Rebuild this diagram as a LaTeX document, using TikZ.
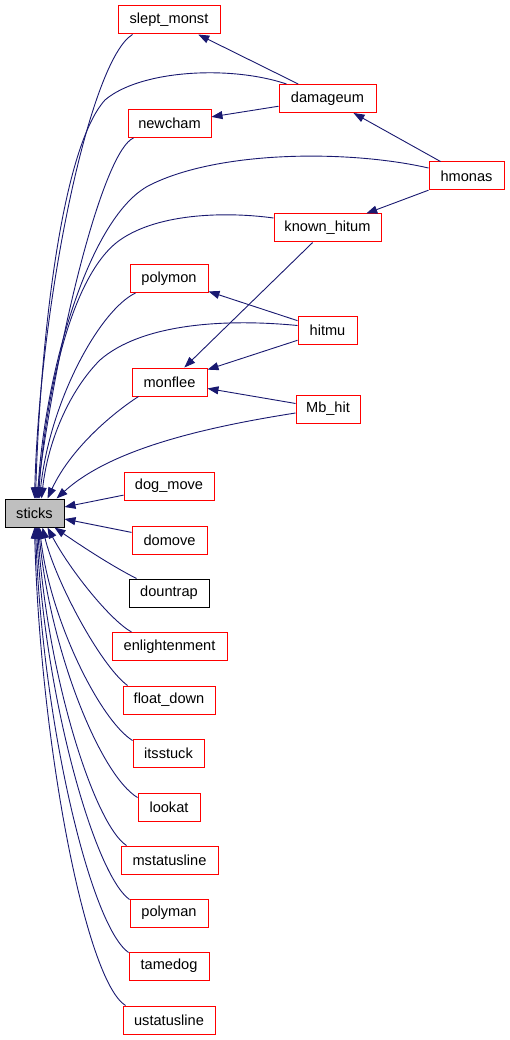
\documentclass[tikz,border=0pt]{standalone}
\usepackage{fontspec}
\setmainfont{Liberation Sans}
\usetikzlibrary{arrows.meta,calc}
\definecolor{edgec}{HTML}{191970}
\definecolor{boxred}{HTML}{FF0000}
\definecolor{boxgray}{HTML}{BFBFBF}
\begin{document}
\begin{tikzpicture}[x=1pt,y=-1pt,
  fn/.style={draw=boxred, fill=white, line width=1pt, minimum height=28pt, inner sep=0pt,
    font=\fontsize{14.6}{17}\selectfont},
  root/.style={fn, draw=black, fill=boxgray},
  plain/.style={fn, draw=black},
  edge/.style={draw=edgec, line width=0.9pt, -{Triangle[length=11pt,width=8pt]}}]
\useasboundingbox (0,0) rectangle (509,1040);
% nodes
\node[fn, minimum width=102pt] (slept_monst) at (169,20) {slept\_monst};
\node[fn, minimum width=97pt] (damageum) at (327.5,98.5) {damageum};
\node[fn, minimum width=83pt] (newcham) at (169.5,123.5) {newcham};
\node[fn, minimum width=75pt] (hmonas) at (466.5,176) {hmonas};
\node[fn, minimum width=107pt] (known_hitum) at (327.5,228) {known\_hitum};
\node[fn, minimum width=78pt] (polymon) at (169,278.5) {polymon};
\node[fn, minimum width=59pt] (hitmu) at (327.5,330.5) {hitmu};
\node[fn, minimum width=75pt] (monflee) at (169.5,382) {monflee};
\node[fn, minimum width=64pt] (Mb_hit) at (328,409) {Mb\_hit};
\node[fn, minimum width=90pt] (dog_move) at (169,486) {dog\_move};
\node[root, minimum width=59pt] (sticks) at (34.5,513) {sticks};
\node[fn, minimum width=75pt] (domove) at (169.5,540) {domove};
\node[plain, minimum width=80pt] (dountrap) at (169,593) {dountrap};
\node[fn, minimum width=115pt] (enlightenment) at (169.5,646.5) {enlightenment};
\node[fn, minimum width=92pt] (float_down) at (169,700) {float\_down};
\node[fn, minimum width=71pt] (itsstuck) at (168.5,753) {itsstuck};
\node[fn, minimum width=62pt] (lookat) at (169,807) {lookat};
\node[fn, minimum width=97pt] (mstatusline) at (169.5,860) {mstatusline};
\node[fn, minimum width=78pt] (polyman) at (169,913) {polyman};
\node[fn, minimum width=80pt] (tamedog) at (169,966) {tamedog};
\node[fn, minimum width=92pt] (ustatusline) at (169,1020) {ustatusline};
% straight edges between callers
\draw[edge] (damageum) -- (slept_monst);
\draw[edge] (damageum) -- (newcham);
\draw[edge] (hmonas) -- (damageum);
\draw[edge] (hmonas) -- (known_hitum);
\draw[edge] (known_hitum) -- (monflee);
\draw[edge] (hitmu) -- (polymon);
\draw[edge] (hitmu) -- (monflee);
\draw[edge] (Mb_hit) -- (monflee);
\draw[edge] (dog_move) -- (sticks);
\draw[edge] (domove) -- (sticks);
% curved edges into sticks (top)
\draw[edge] ($(slept_monst.south west)+(15,0)$) .. controls (90,60) and (40,300) .. ($(sticks.north west)+(30,0)$);
\draw[edge] ($(damageum.north west)+(8,0)$) .. controls (230,65) and (140,70) .. (105,100) .. controls (60,150) and (40,350) .. ($(sticks.north west)+(31,0)$);
\draw[edge] ($(newcham.south west)+(6,0)$) .. controls (105,150) and (60,320) .. ($(sticks.north west)+(32,0)$);
\draw[edge] ($(hmonas.west)+(0,-8)$) .. controls (350,150) and (220,150) .. (150,185) .. controls (90,215) and (45,370) .. ($(sticks.north west)+(33,0)$);
\draw[edge] ($(known_hitum.west)+(0,-10)$) .. controls (230,212) and (160,212) .. (120,240) .. controls (70,275) and (45,400) .. ($(sticks.north west)+(34,0)$);
\draw[edge] ($(polymon.south west)+(6,0)$) .. controls (100,310) and (50,400) .. ($(sticks.north west)+(35,0)$);
\draw[edge] ($(hitmu.west)+(0,-5)$) .. controls (220,318) and (140,325) .. (100,360) .. controls (70,390) and (48,440) .. ($(sticks.north west)+(37,0)$);
\draw[edge] ($(monflee.south west)+(7,0)$) .. controls (110,415) and (70,450) .. ($(sticks.north west)+(43,0)$);
\draw[edge] ($(Mb_hit.west)+(0,4)$) .. controls (200,428) and (110,450) .. ($(sticks.north west)+(52,0)$);
% curved edges into sticks (bottom)
\draw[edge] ($(dountrap.north west)+(8,0)$) .. controls (110,565) and (80,545) .. ($(sticks.south west)+(50,0)$);
\draw[edge] ($(enlightenment.north west)+(20,0)$) .. controls (110,620) and (70,570) .. ($(sticks.south west)+(43,0)$);
\draw[edge] ($(float_down.north west)+(5,0)$) .. controls (100,665) and (55,580) .. ($(sticks.south west)+(38,0)$);
\draw[edge] ($(itsstuck.north west)+(0,2)$) .. controls (100,720) and (50,620) .. ($(sticks.south west)+(35,0)$);
\draw[edge] ($(lookat.north west)+(0,5)$) .. controls (100,775) and (50,650) .. ($(sticks.south west)+(34,0)$);
\draw[edge] ($(mstatusline.north west)+(6,0)$) .. controls (95,825) and (48,680) .. ($(sticks.south west)+(33,0)$);
\draw[edge] ($(polyman.north west)+(0,1)$) .. controls (95,875) and (45,700) .. ($(sticks.south west)+(32,0)$);
\draw[edge] ($(tamedog.north west)+(0,1)$) .. controls (90,925) and (42,720) .. ($(sticks.south west)+(31,0)$);
\draw[edge] ($(ustatusline.north west)+(3,0)$) .. controls (85,980) and (40,740) .. ($(sticks.south west)+(30,0)$);
\end{tikzpicture}
\end{document}
